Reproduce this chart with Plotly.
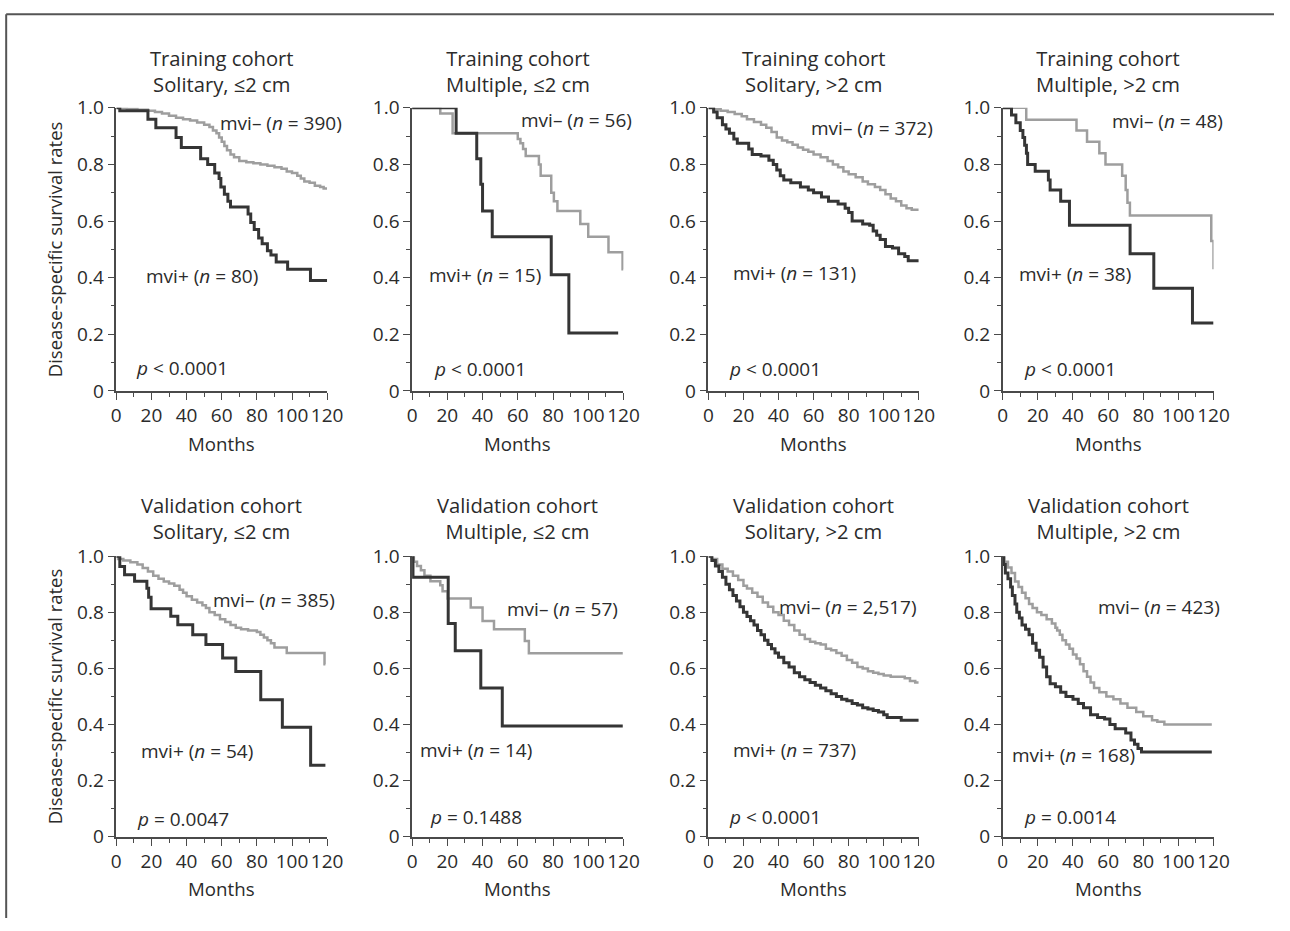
import plotly.graph_objects as go

W, H = 1290, 931

# ---------------- data ----------------
TITLE_LINE1 = ["Training cohort"] * 4 + ["Validation cohort"] * 4
TITLE_LINE2 = ["Solitary, ≤2 cm", "Multiple, ≤2 cm", "Solitary, >2 cm", "Multiple, >2 cm"] * 2
N_NEG = ["390", "56", "372", "48", "385", "57", "2,517", "423"]
N_POS = ["80", "15", "131", "38", "54", "14", "737", "168"]
P_TEXT = ["<i>p</i> < 0.0001", "<i>p</i> < 0.0001", "<i>p</i> < 0.0001", "<i>p</i> < 0.0001",
          "<i>p</i> = 0.0047", "<i>p</i> = 0.1488", "<i>p</i> < 0.0001", "<i>p</i> = 0.0014"]

X_TICKS = [0, 20, 40, 60, 80, 100, 120]
Y_TICKS = [0, 0.2, 0.4, 0.6, 0.8, 1.0]
Y_TICKTEXT = ["0", "0.2", "0.4", "0.6", "0.8", "1.0"]

# Panel 1: Training, Solitary <=2 cm
P1_NEG_T = [0, 6, 12, 18, 22, 26, 30, 34, 38, 42, 46, 50, 53, 55, 57, 58.5, 60, 61.5, 63, 65, 67, 70, 74, 78, 82, 86, 90, 94, 97, 100, 103, 105, 107, 110, 113, 116, 118, 120]
P1_NEG_S = [1.0, 0.997, 0.993, 0.99, 0.985, 0.98, 0.972, 0.965, 0.96, 0.955, 0.948, 0.94, 0.932, 0.92, 0.91, 0.895, 0.88, 0.865, 0.85, 0.835, 0.825, 0.812, 0.808, 0.804, 0.80, 0.795, 0.79, 0.785, 0.775, 0.77, 0.76, 0.75, 0.74, 0.735, 0.725, 0.72, 0.715, 0.715]
P1_POS_T = [0, 2, 18, 22.5, 34, 37, 48, 52, 56, 58.5, 59.5, 61.5, 63.5, 65, 75, 76.5, 78.5, 81, 83, 86, 88, 91, 97.5, 110.5, 120]
P1_POS_S = [1.0, 0.99, 0.96, 0.93, 0.895, 0.86, 0.82, 0.80, 0.77, 0.75, 0.72, 0.695, 0.67, 0.65, 0.625, 0.595, 0.57, 0.54, 0.52, 0.495, 0.48, 0.455, 0.43, 0.39, 0.39]

# Panel 2: Training, Multiple <=2 cm
P2_NEG_T = [0, 16, 23, 60, 61.5, 63, 64.5, 72, 73, 79, 80.5, 82.5, 95.5, 100, 111.5, 119.5, 120]
P2_NEG_S = [1.0, 0.98, 0.91, 0.89, 0.875, 0.855, 0.83, 0.80, 0.76, 0.70, 0.67, 0.636, 0.59, 0.545, 0.49, 0.43, 0.43]
P2_POS_T = [0, 25, 36.7, 39, 40, 45.5, 79, 89, 117]
P2_POS_S = [1.0, 0.91, 0.82, 0.73, 0.636, 0.545, 0.41, 0.205, 0.205]

# Panel 3: Training, Solitary >2 cm
P3_NEG_T = [0, 3, 7, 11, 15, 19, 22, 26, 30, 33, 36, 39, 42, 45, 48, 51, 54, 57, 60, 64, 68, 71, 74, 77, 80, 84, 88, 91, 95, 98, 101, 104, 107, 110, 113, 116, 120]
P3_NEG_S = [1.0, 0.995, 0.99, 0.985, 0.978, 0.97, 0.96, 0.95, 0.94, 0.93, 0.915, 0.895, 0.885, 0.878, 0.87, 0.86, 0.852, 0.845, 0.835, 0.825, 0.812, 0.80, 0.79, 0.775, 0.765, 0.755, 0.74, 0.73, 0.72, 0.71, 0.695, 0.68, 0.67, 0.655, 0.645, 0.64, 0.64]
P3_POS_T = [0, 3, 5, 8, 10, 12, 14.5, 16.5, 23, 25, 30, 34.5, 37, 39, 41, 43, 47, 52.5, 57, 60, 64.5, 68.5, 74, 78, 80, 82, 88, 92, 94, 96, 98, 101, 105, 108.5, 112, 114, 120]
P3_POS_S = [1.0, 0.985, 0.965, 0.94, 0.925, 0.91, 0.89, 0.875, 0.855, 0.835, 0.83, 0.815, 0.80, 0.78, 0.76, 0.745, 0.735, 0.72, 0.71, 0.70, 0.685, 0.67, 0.66, 0.645, 0.63, 0.60, 0.59, 0.585, 0.565, 0.55, 0.535, 0.51, 0.505, 0.485, 0.475, 0.46, 0.46]

# Panel 4: Training, Multiple >2 cm
P4_NEG_T = [0, 13.4, 42, 48, 55, 58.5, 68, 70, 71, 72.4, 118.7, 120]
P4_NEG_S = [1.0, 0.958, 0.92, 0.88, 0.84, 0.80, 0.76, 0.71, 0.665, 0.62, 0.53, 0.43]
P4_POS_T = [0, 5, 7.5, 10, 11.5, 12.5, 13.5, 14.2, 18.5, 26, 27, 33, 38, 72.5, 86, 108, 120]
P4_POS_S = [1.0, 0.975, 0.947, 0.92, 0.895, 0.868, 0.84, 0.80, 0.776, 0.745, 0.71, 0.67, 0.585, 0.485, 0.363, 0.24, 0.24]

# Panel 5: Validation, Solitary <=2 cm
P5_NEG_T = [0, 1, 4, 8, 12, 15, 18, 21, 24, 27, 30, 33, 36, 38, 40, 43, 46, 49, 51, 53, 56, 59, 62, 65, 68, 71, 75, 80, 82, 84, 86, 88, 90, 97, 118.5, 119]
P5_NEG_S = [1.0, 0.99, 0.985, 0.978, 0.97, 0.958, 0.945, 0.93, 0.92, 0.91, 0.903, 0.895, 0.88, 0.87, 0.857, 0.845, 0.835, 0.825, 0.815, 0.80, 0.79, 0.775, 0.765, 0.755, 0.745, 0.74, 0.735, 0.73, 0.72, 0.71, 0.70, 0.69, 0.675, 0.655, 0.615, 0.615]
P5_POS_T = [0, 2, 4.7, 10.4, 17.4, 18.4, 19.8, 31, 35, 43.5, 51, 60.5, 68, 82.2, 94.5, 110.6, 119]
P5_POS_S = [1.0, 0.963, 0.934, 0.911, 0.886, 0.854, 0.813, 0.786, 0.756, 0.72, 0.685, 0.637, 0.589, 0.488, 0.39, 0.255, 0.255]

# Panel 6: Validation, Multiple <=2 cm
P6_NEG_T = [0, 1, 2.8, 5, 7, 10.4, 16, 17.3, 20.2, 33.3, 40, 46.5, 64, 66.3, 119.6]
P6_NEG_S = [1.0, 0.98, 0.965, 0.95, 0.93, 0.911, 0.896, 0.875, 0.849, 0.817, 0.769, 0.74, 0.698, 0.654, 0.654]
P6_POS_T = [0, 0.5, 20.5, 24.5, 39, 51.2, 119.6]
P6_POS_S = [1.0, 0.925, 0.76, 0.663, 0.53, 0.395, 0.395]

# Panel 7: Validation, Solitary >2 cm
P7_NEG_T = [0, 2, 5, 8, 11, 14, 17, 20, 22, 25, 28, 31, 34, 37, 40, 43, 46, 49, 52, 55, 58, 61, 64, 67, 70, 73, 76, 79, 82, 85, 88, 91, 94, 97, 100, 104, 108, 112, 115, 118, 120]
P7_NEG_S = [1.0, 0.99, 0.97, 0.955, 0.945, 0.93, 0.915, 0.895, 0.885, 0.87, 0.855, 0.835, 0.82, 0.80, 0.79, 0.77, 0.755, 0.735, 0.72, 0.705, 0.695, 0.69, 0.685, 0.67, 0.665, 0.655, 0.645, 0.63, 0.62, 0.605, 0.60, 0.59, 0.585, 0.58, 0.575, 0.57, 0.57, 0.565, 0.555, 0.55, 0.55]
P7_POS_T = [0, 2, 4, 6, 8, 10, 12, 14, 16, 18, 20, 22, 24, 26, 28, 30, 32, 34, 36, 38, 40, 43, 46, 49, 52, 55, 58, 61, 64, 67, 70, 73, 76, 79, 82, 85, 88, 91, 94, 97, 100, 102, 106, 110, 120]
P7_POS_S = [1.0, 0.985, 0.965, 0.945, 0.925, 0.90, 0.88, 0.86, 0.84, 0.82, 0.80, 0.785, 0.77, 0.755, 0.735, 0.72, 0.70, 0.685, 0.67, 0.655, 0.64, 0.62, 0.605, 0.585, 0.57, 0.56, 0.55, 0.54, 0.53, 0.52, 0.51, 0.50, 0.49, 0.485, 0.475, 0.47, 0.46, 0.455, 0.45, 0.445, 0.435, 0.425, 0.425, 0.415, 0.415]

# Panel 8: Validation, Multiple >2 cm
P8_NEG_T = [0, 1, 3, 5, 7, 9, 11, 13, 15, 17, 19.5, 22, 25, 28, 30, 31, 32.5, 34, 36, 38, 40, 42, 44, 46, 48, 50, 52, 55, 59, 63, 67, 71, 76, 80, 85, 88, 92, 119]
P8_NEG_S = [1.0, 0.98, 0.96, 0.94, 0.91, 0.89, 0.87, 0.85, 0.83, 0.815, 0.80, 0.79, 0.775, 0.76, 0.745, 0.735, 0.72, 0.70, 0.685, 0.67, 0.65, 0.635, 0.615, 0.59, 0.57, 0.55, 0.53, 0.515, 0.50, 0.49, 0.475, 0.46, 0.445, 0.43, 0.415, 0.41, 0.40, 0.40]
P8_POS_T = [0, 0.5, 1.5, 3, 4.5, 5.5, 7, 8, 9.5, 11, 13, 15, 17, 19, 21, 23, 25, 27, 30, 33, 36, 40, 43, 46, 50, 54, 58, 61, 64, 70, 73, 75, 77, 79, 119]
P8_POS_S = [1.0, 0.97, 0.94, 0.92, 0.89, 0.86, 0.83, 0.80, 0.78, 0.755, 0.74, 0.72, 0.69, 0.665, 0.64, 0.605, 0.57, 0.545, 0.535, 0.515, 0.50, 0.49, 0.475, 0.46, 0.435, 0.425, 0.42, 0.40, 0.385, 0.37, 0.345, 0.33, 0.315, 0.302, 0.302]

NEG = [(P1_NEG_T, P1_NEG_S), (P2_NEG_T, P2_NEG_S), (P3_NEG_T, P3_NEG_S), (P4_NEG_T, P4_NEG_S),
       (P5_NEG_T, P5_NEG_S), (P6_NEG_T, P6_NEG_S), (P7_NEG_T, P7_NEG_S), (P8_NEG_T, P8_NEG_S)]
POS = [(P1_POS_T, P1_POS_S), (P2_POS_T, P2_POS_S), (P3_POS_T, P3_POS_S), (P4_POS_T, P4_POS_S),
       (P5_POS_T, P5_POS_S), (P6_POS_T, P6_POS_S), (P7_POS_T, P7_POS_S), (P8_POS_T, P8_POS_S)]

# label anchor positions (data coords)
NEG_LAB = [(57.8, 0.946), (60.6, 0.956), (57.3, 0.928), (61, 0.955), (53.9, 0.845), (52.5, 0.81), (39.2, 0.818), (53.1, 0.818)]
POS_LAB = [(15.9, 0.407), (8.5, 0.411), (12.7, 0.417), (8.1, 0.413), (13.2, 0.304), (3.6, 0.308), (13.1, 0.308), (4.0, 0.29)]
P_LAB = [(10.2, 0.08), (11.1, 0.079), (10.4, 0.079), (11, 0.079), (10.4, 0.065), (9.2, 0.071), (10.4, 0.071), (11, 0.071)]

# ---------------- layout geometry ----------------
# target positions (pixels in the photographed picture) mapped back to page pixels
SCX, SCY, OFX, OFY = 0.9844, 0.9724, 5.2, 13.0


def pgx(s):
    return s / SCX - OFX


def pgy(s):
    return s / SCY - OFY


COL_X = [(116.5, 327.5), (412.5, 624), (709, 919.5), (1003.5, 1214.5)]
ROW_Y = [(107.5, 390.7), (556, 836.7)]  # (top=1.0, bottom=0)
TITLE_Y = [70.5, 517.5]

FONT = "Open Sans, Noto Sans, sans-serif"
TXT = "#2b2b2b"
AX = "#4a4a4a"
DARK = "#353535"
GRAY = "#9e9e9e"

fig = go.Figure()
annotations = []
shapes = []

for i in range(8):
    r, c = divmod(i, 4)
    k = "" if i == 0 else str(i + 1)
    xd = [pgx(COL_X[c][0]) / W, pgx(COL_X[c][1]) / W]
    yd = [1 - pgy(ROW_Y[r][1]) / H, 1 - pgy(ROW_Y[r][0]) / H]
    fig.update_layout(**{
        f"xaxis{k}": dict(
            domain=xd, range=[0, 120], anchor=f"y{k}", tickvals=X_TICKS,
            ticks="outside", ticklen=7, tickwidth=1.3, tickcolor=AX,
            showline=True, linecolor=AX, linewidth=1.5, showgrid=False, zeroline=False,
            tickfont=dict(size=19, color=TXT, family=FONT),
            minor=dict(ticks="outside", ticklen=4, tickwidth=1.2, tickcolor=AX, tick0=0, dtick=10, showgrid=False),
            fixedrange=True,
        ),
        f"yaxis{k}": dict(
            domain=yd, range=[0, 1.0], anchor=f"x{k}", tickvals=Y_TICKS, ticktext=Y_TICKTEXT,
            ticks="outside", ticklen=7, tickwidth=1.3, tickcolor=AX,
            showline=True, linecolor=AX, linewidth=1.5, showgrid=False, zeroline=False,
            tickfont=dict(size=19, color=TXT, family=FONT),
            minor=dict(ticks="outside", ticklen=4, tickwidth=1.2, tickcolor=AX, tick0=0, dtick=0.1, showgrid=False),
            fixedrange=True,
        ),
    })
    nt, ns = NEG[i]
    pt, ps = POS[i]
    fig.add_trace(go.Scatter(x=nt, y=ns, mode="lines", line=dict(shape="hv", color=GRAY, width=2.5),
                             xaxis=f"x{k}", yaxis=f"y{k}", cliponaxis=False, showlegend=False))
    fig.add_trace(go.Scatter(x=pt, y=ps, mode="lines", line=dict(shape="hv", color=DARK, width=3),
                             xaxis=f"x{k}", yaxis=f"y{k}", cliponaxis=False, showlegend=False))

    # panel title (two lines in one text block)
    cx = pgx((COL_X[c][0] + COL_X[c][1]) / 2) / W
    annotations.append(dict(text=f"{TITLE_LINE1[i]}<br>{TITLE_LINE2[i]}", x=cx, y=1 - pgy(TITLE_Y[r]) / H,
                            xref="paper", yref="paper", xanchor="center", yanchor="middle", showarrow=False,
                            font=dict(size=20.2, color=TXT, family=FONT)))
    # Months
    my = 1 - pgy(443 if r == 0 else 888) / H
    annotations.append(dict(text="Months", x=cx, y=my, xref="paper", yref="paper",
                            xanchor="center", yanchor="middle", showarrow=False,
                            font=dict(size=18.7, color=TXT, family=FONT)))
    # labels
    annotations.append(dict(text=f"mvi– (<i>n</i> = {N_NEG[i]})", x=NEG_LAB[i][0], y=NEG_LAB[i][1],
                            xref=f"x{k}", yref=f"y{k}", xanchor="left", yanchor="middle", showarrow=False,
                            font=dict(size=19, color=TXT, family=FONT)))
    annotations.append(dict(text=f"mvi+ (<i>n</i> = {N_POS[i]})", x=POS_LAB[i][0], y=POS_LAB[i][1],
                            xref=f"x{k}", yref=f"y{k}", xanchor="left", yanchor="middle", showarrow=False,
                            font=dict(size=19, color=TXT, family=FONT)))
    annotations.append(dict(text=P_TEXT[i], x=P_LAB[i][0], y=P_LAB[i][1],
                            xref=f"x{k}", yref=f"y{k}", xanchor="left", yanchor="middle", showarrow=False,
                            font=dict(size=19, color=TXT, family=FONT)))

# y axis titles
for r in range(2):
    cy = 1 - pgy((ROW_Y[r][0] + ROW_Y[r][1]) / 2) / H
    annotations.append(dict(text="Disease-specific survival rates", x=pgx(55) / W, y=cy, xref="paper", yref="paper",
                            xanchor="center", yanchor="middle", textangle=-90, showarrow=False,
                            font=dict(size=18.5, color=TXT, family=FONT)))

# frame (top and left border)
fx = max(pgx(6), 1.2) / W
fy = 1 - max(pgy(6.5), 1.2) / H
shapes.append(dict(type="line", xref="paper", yref="paper", x0=fx, x1=1.0, y0=fy, y1=fy,
                   line=dict(color="#555555", width=2)))
shapes.append(dict(type="line", xref="paper", yref="paper", x0=fx, x1=fx, y0=fy, y1=0,
                   line=dict(color="#555555", width=2)))

fig.update_layout(width=W, height=H, margin=dict(l=0, r=0, t=0, b=0),
                  paper_bgcolor="white", plot_bgcolor="white",
                  annotations=annotations, shapes=shapes,
                  font=dict(family=FONT, color=TXT))

fig.write_html("out.html", config={"displayModeBar": False},
               post_script="document.body.style.margin='0px';document.body.style.overflow='hidden';")
